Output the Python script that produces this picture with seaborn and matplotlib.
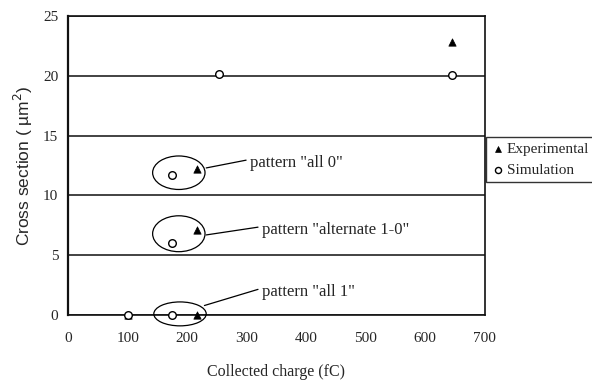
import matplotlib
matplotlib.use("Agg")
import matplotlib.pyplot as plt
from matplotlib.patches import Ellipse
import pandas as pd
import seaborn as sns

# data
exp_charge = [100, 217, 217, 217, 645]
exp_cross = [0.0, 0.0, 7.1, 12.2, 22.8]
sim_charge = [100, 175, 175, 175, 254, 645]
sim_cross = [0.0, 0.0, 6.0, 11.75, 20.15, 20.1]

pattern_labels = ['pattern "all 0"', 'pattern "alternate 1-0"', 'pattern "all 1"']
ellipse_centers = [(186, 11.9), (186, 6.8), (188, 0.1)]
ellipse_heights = [2.8, 3.0, 2.0]
line_starts = [(232, 12.3), (232, 6.7), (229, 0.8)]
text_points = [(305, 12.7), (325, 7.1), (325, 1.9)]

sns.set_style("white")
serif = "Liberation Serif"
sans = "Liberation Sans"

exp_df = pd.DataFrame({"charge": exp_charge, "cross": exp_cross})
sim_df = pd.DataFrame({"charge": sim_charge, "cross": sim_cross})

fig = plt.figure(figsize=(5.92, 3.81), dpi=100)
ax = fig.add_axes([0.115, 0.173, 0.704, 0.785])

sns.scatterplot(data=exp_df, x="charge", y="cross", marker="^", color="black",
                s=28, edgecolor="black", linewidth=0.5, label="Experimental", ax=ax,
                zorder=4, clip_on=False)
sns.scatterplot(data=sim_df, x="charge", y="cross", marker="o", facecolor="white",
                s=30, edgecolor="black", linewidth=1.0, label="Simulation", ax=ax,
                zorder=5, clip_on=False)

ax.set_xlim(0, 700)
ax.set_ylim(0, 25)
ax.set_xticks(range(0, 701, 100))
ax.set_yticks(range(0, 26, 5))
ax.yaxis.grid(True, color="#222222", linewidth=1.2)
ax.set_axisbelow(True)
for sp in ax.spines.values():
    sp.set_color("#111111")
    sp.set_linewidth(1.2)
ax.spines["left"].set_linewidth(1.6)
ax.tick_params(axis="y", direction="out", length=4, width=1, labelsize=11, pad=3)
ax.tick_params(axis="x", direction="in", length=4, width=1, labelsize=11, pad=12)
for lab in ax.get_xticklabels() + ax.get_yticklabels():
    lab.set_fontfamily(serif)

ax.set_xlabel("Collected charge (fC)", fontfamily=serif, fontsize=11.5, labelpad=14)
ax.set_ylabel("Cross section ( \u00b5m$^2$)", fontfamily=sans, fontsize=12.5, labelpad=6)

for (cx, cy), h, (sx, sy), (tx, ty), lab in zip(ellipse_centers, ellipse_heights,
                                                line_starts, text_points, pattern_labels):
    ax.add_patch(Ellipse((cx, cy), 88, h, fill=False, edgecolor="black", linewidth=0.9,
                         zorder=3, clip_on=False))
    ax.plot([sx, tx - 6], [sy, ty + 0.25], color="black", linewidth=0.9, zorder=3)
    ax.text(tx, ty, lab, fontfamily=serif, fontsize=12, va="center", ha="left")

leg = ax.legend(loc="upper left", bbox_to_anchor=(1.003, 0.595), frameon=True, fancybox=False,
                edgecolor="black", prop={"family": serif, "size": 11},
                handletextpad=0.1, handlelength=0.9, borderpad=0.35, labelspacing=0.45,
                borderaxespad=0, markerscale=0.8)
leg.get_frame().set_linewidth(1.0)

fig.savefig("out.png", dpi=100)
